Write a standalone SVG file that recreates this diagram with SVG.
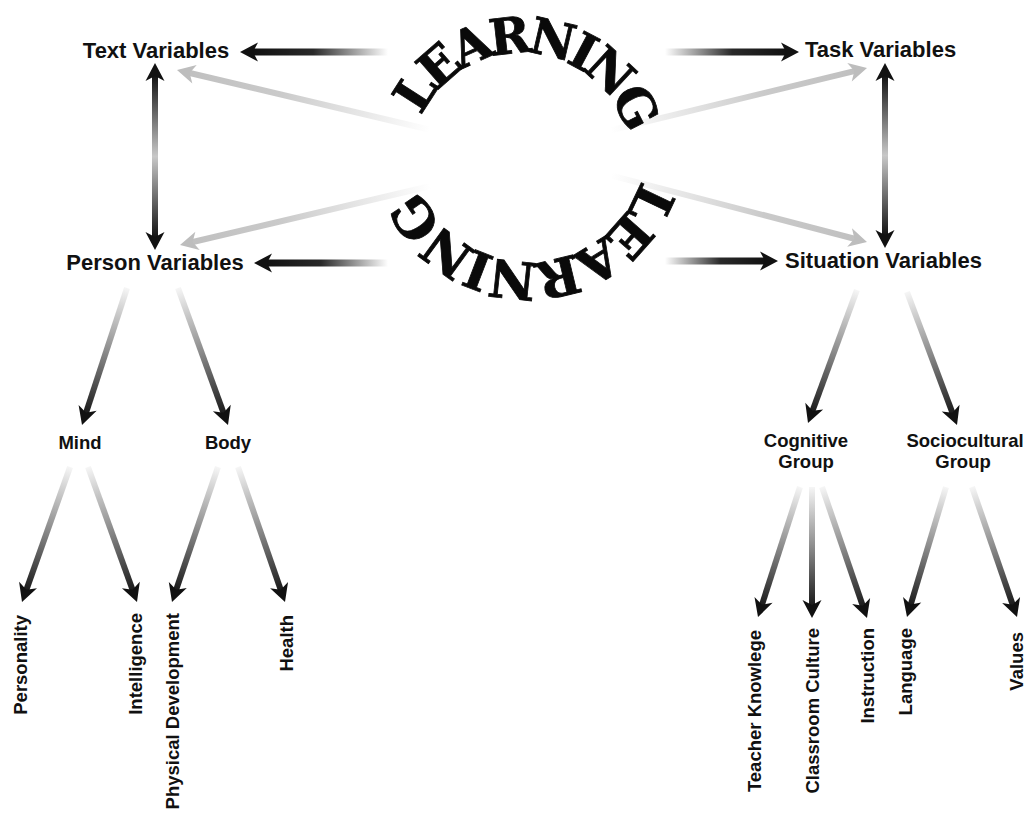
<svg xmlns="http://www.w3.org/2000/svg" width="1025" height="815" viewBox="0 0 1025 815">
<defs>
<style>
  .main{font-family:"Liberation Sans",Arial,sans-serif;font-weight:bold;font-size:22px;fill:#111;text-anchor:middle}
  .sub{font-family:"Liberation Sans",Arial,sans-serif;font-weight:bold;font-size:18.5px;fill:#111;text-anchor:middle}
  .leaf{font-family:"Liberation Sans",Arial,sans-serif;font-weight:bold;font-size:18.5px;fill:#111;text-anchor:end}
  .arc{font-family:"DejaVu Serif",serif;font-weight:bold;fill:#0a0a0a;stroke:#0a0a0a;stroke-width:0.8px}
  .dark{fill:#111}
  .gray{fill:#bdbdbd}
</style>
<!-- shaft gradients run from tail (0) to head (1) in each arrow's local frame -->
<linearGradient id="fadeShort" x1="0" y1="0" x2="1" y2="0">
  <stop offset="0" stop-color="#111" stop-opacity="0"/>
  <stop offset="0.55" stop-color="#111" stop-opacity="0.9"/>
  <stop offset="1" stop-color="#111" stop-opacity="1"/>
</linearGradient>
<linearGradient id="fadeLong" x1="0" y1="0" x2="1" y2="0">
  <stop offset="0" stop-color="#1a1a1a" stop-opacity="0.04"/>
  <stop offset="0.5" stop-color="#1a1a1a" stop-opacity="0.5"/>
  <stop offset="1" stop-color="#1a1a1a" stop-opacity="1"/>
</linearGradient>
<linearGradient id="fadeGray" x1="0" y1="0" x2="1" y2="0">
  <stop offset="0" stop-color="#c4c4c4" stop-opacity="0"/>
  <stop offset="0.2" stop-color="#c4c4c4" stop-opacity="0"/>
  <stop offset="0.7" stop-color="#c4c4c4" stop-opacity="0.9"/>
  <stop offset="1" stop-color="#c0c0c0" stop-opacity="1"/>
</linearGradient>
<linearGradient id="midFade" x1="0" y1="0" x2="0" y2="1">
  <stop offset="0" stop-color="#111"/>
  <stop offset="0.5" stop-color="#c8c8c8"/>
  <stop offset="1" stop-color="#111"/>
</linearGradient>
<path id="head" d="M0 0 L-18 -9.5 L-13 0 L-18 9.5 Z"/>
<path id="arcTop" d="M 411 163 A 110 110 0 0 1 631 163" fill="none"/>
<path id="arcBottom" d="M 647 144 A 118 118 0 0 1 411 144" fill="none"/>
</defs>

<rect width="1025" height="815" fill="#fff"/>

<g id="connectors">
  <!-- faint diagonals from the centre -->
  <g transform="translate(177 70) rotate(193.3)"><rect x="-321.6" y="-3" width="309.6" height="6" fill="url(#fadeGray)"/><use href="#head" class="gray"/></g>
  <g transform="translate(180 245) rotate(166.75)"><rect x="-318.5" y="-3" width="306.5" height="6" fill="url(#fadeGray)"/><use href="#head" class="gray"/></g>
  <g transform="translate(867 68) rotate(-13.65)"><rect x="-326.2" y="-3" width="314.2" height="6" fill="url(#fadeGray)"/><use href="#head" class="gray"/></g>
  <g transform="translate(867 242) rotate(14.57)"><rect x="-327.5" y="-3" width="315.5" height="6" fill="url(#fadeGray)"/><use href="#head" class="gray"/></g>

  <!-- horizontal arrows out of LEARNING -->
  <g transform="translate(240 52) rotate(180)"><rect x="-148" y="-3.5" width="136" height="7" fill="url(#fadeShort)"/><use href="#head" class="dark"/></g>
  <g transform="translate(799 52)"><rect x="-134" y="-3.5" width="122" height="7" fill="url(#fadeShort)"/><use href="#head" class="dark"/></g>
  <g transform="translate(254 263) rotate(180)"><rect x="-134" y="-3.5" width="122" height="7" fill="url(#fadeShort)"/><use href="#head" class="dark"/></g>
  <g transform="translate(778 261)"><rect x="-113" y="-3.5" width="101" height="7" fill="url(#fadeShort)"/><use href="#head" class="dark"/></g>

  <!-- vertical two-way arrows -->
  <g>
    <rect x="152" y="75" width="6" height="163" fill="url(#midFade)"/>
    <use href="#head" class="dark" transform="translate(155 63) rotate(-90)"/>
    <use href="#head" class="dark" transform="translate(155 250) rotate(90)"/>
  </g>
  <g>
    <rect x="882" y="75" width="6" height="161" fill="url(#midFade)"/>
    <use href="#head" class="dark" transform="translate(885 63) rotate(-90)"/>
    <use href="#head" class="dark" transform="translate(885 248) rotate(90)"/>
  </g>

  <!-- tree: person -->
  <g transform="translate(82 425) rotate(108.2)"><rect x="-144.2" y="-3" width="132.2" height="6" fill="url(#fadeLong)"/><use href="#head" class="dark"/></g>
  <g transform="translate(228 425) rotate(69.95)"><rect x="-145.8" y="-3" width="133.8" height="6" fill="url(#fadeLong)"/><use href="#head" class="dark"/></g>
  <g transform="translate(22 602) rotate(109.6)"><rect x="-143.3" y="-3" width="131.3" height="6" fill="url(#fadeLong)"/><use href="#head" class="dark"/></g>
  <g transform="translate(137 602) rotate(70.05)"><rect x="-143.6" y="-3" width="131.6" height="6" fill="url(#fadeLong)"/><use href="#head" class="dark"/></g>
  <g transform="translate(172 602) rotate(108.8)"><rect x="-142.6" y="-3" width="130.6" height="6" fill="url(#fadeLong)"/><use href="#head" class="dark"/></g>
  <g transform="translate(285 602) rotate(70.8)"><rect x="-142.9" y="-3" width="130.9" height="6" fill="url(#fadeLong)"/><use href="#head" class="dark"/></g>

  <!-- tree: situation -->
  <g transform="translate(808 423) rotate(110.2)"><rect x="-141.7" y="-3" width="129.7" height="6" fill="url(#fadeLong)"/><use href="#head" class="dark"/></g>
  <g transform="translate(957 425) rotate(69.4)"><rect x="-142.1" y="-3" width="130.1" height="6" fill="url(#fadeLong)"/><use href="#head" class="dark"/></g>
  <g transform="translate(758 617) rotate(107.9)"><rect x="-136.6" y="-3" width="124.6" height="6" fill="url(#fadeLong)"/><use href="#head" class="dark"/></g>
  <g transform="translate(812 618) rotate(90)"><rect x="-131" y="-3" width="119" height="6" fill="url(#fadeLong)"/><use href="#head" class="dark"/></g>
  <g transform="translate(867 618) rotate(71.04)"><rect x="-138.5" y="-3" width="126.5" height="6" fill="url(#fadeLong)"/><use href="#head" class="dark"/></g>
  <g transform="translate(907 617) rotate(106.7)"><rect x="-135.7" y="-3" width="123.7" height="6" fill="url(#fadeLong)"/><use href="#head" class="dark"/></g>
  <g transform="translate(1017 617) rotate(70.9)"><rect x="-137.6" y="-3" width="125.6" height="6" fill="url(#fadeLong)"/><use href="#head" class="dark"/></g>
</g>

<g id="learning">
  <text class="arc" font-size="50" letter-spacing="-6"><textPath href="#arcTop" startOffset="179.8" text-anchor="middle">LEARNING</textPath></text>
  <text class="arc" font-size="52" letter-spacing="-5"><textPath href="#arcBottom" startOffset="178.4" text-anchor="middle">LEARNING</textPath></text>
</g>

<g id="text-variables"><text class="main" x="156" y="58">Text Variables</text></g>
<g id="task-variables"><text class="main" x="880.5" y="57">Task Variables</text></g>
<g id="person-variables"><text class="main" x="155" y="270">Person Variables</text></g>
<g id="situation-variables"><text class="main" x="883.5" y="268">Situation Variables</text></g>

<g id="mind"><text class="sub" x="80" y="449">Mind</text></g>
<g id="body"><text class="sub" x="228" y="449">Body</text></g>
<g id="cognitive-group"><text class="sub" x="806" y="447">Cognitive</text><text class="sub" x="806" y="468">Group</text></g>
<g id="sociocultural-group"><text class="sub" x="965" y="447">Sociocultural</text><text class="sub" x="963" y="468">Group</text></g>

<g id="personality"><text class="leaf" transform="translate(27 615) rotate(-90)">Personality</text></g>
<g id="intelligence"><text class="leaf" transform="translate(142 613) rotate(-90)">Intelligence</text></g>
<g id="physical-development"><text class="leaf" transform="translate(179 613) rotate(-90)">Physical Development</text></g>
<g id="health"><text class="leaf" transform="translate(293 615) rotate(-90)">Health</text></g>
<g id="teacher-knowlege"><text class="leaf" transform="translate(761 630) rotate(-90)">Teacher Knowlege</text></g>
<g id="classroom-culture"><text class="leaf" transform="translate(819 628) rotate(-90)">Classroom Culture</text></g>
<g id="instruction"><text class="leaf" transform="translate(874 628) rotate(-90)">Instruction</text></g>
<g id="language"><text class="leaf" transform="translate(912 628) rotate(-90)">Language</text></g>
<g id="values"><text class="leaf" transform="translate(1023 632) rotate(-90)">Values</text></g>
</svg>
